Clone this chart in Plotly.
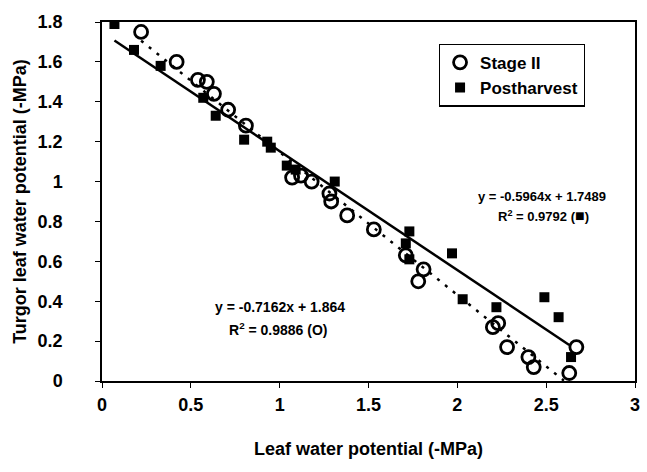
import plotly.graph_objects as go

# Stage II (open circles)
stage_x = [0.22, 0.42, 0.54, 0.59, 0.63, 0.71, 0.81, 1.07, 1.12, 1.18, 1.28, 1.29,
           1.38, 1.53, 1.71, 1.81, 1.78, 2.20, 2.23, 2.28, 2.40, 2.43, 2.63, 2.67]
stage_y = [1.75, 1.60, 1.51, 1.50, 1.44, 1.36, 1.28, 1.02, 1.03, 1.00, 0.94, 0.90,
           0.83, 0.76, 0.63, 0.56, 0.50, 0.27, 0.29, 0.17, 0.12, 0.07, 0.04, 0.17]

# Postharvest (filled squares)
post_x = [0.07, 0.18, 0.33, 0.57, 0.64, 0.80, 0.93, 0.95, 1.04, 1.09, 1.31,
          1.73, 1.71, 1.73, 1.97, 2.03, 2.22, 2.49, 2.57, 2.64]
post_y = [1.79, 1.66, 1.58, 1.42, 1.33, 1.21, 1.20, 1.17, 1.08, 1.06, 1.00,
          0.75, 0.69, 0.61, 0.64, 0.41, 0.37, 0.42, 0.32, 0.12]

# Regression coefficients (from the chart)
stage_slope, stage_icpt = -0.7162, 1.864
post_slope, post_icpt = -0.5964, 1.7489
stage_line_x = [0.22, 2.60]
post_line_x = [0.07, 2.63]

x_ticks = [0, 0.5, 1, 1.5, 2, 2.5, 3]
y_ticks = [0, 0.2, 0.4, 0.6, 0.8, 1, 1.2, 1.4, 1.6, 1.8]

FONT = "Liberation Sans"

fig = go.Figure()

fig.add_trace(go.Scatter(
    x=post_line_x, y=[post_slope * v + post_icpt for v in post_line_x],
    mode="lines", line=dict(color="black", width=2.5), showlegend=False))
fig.add_trace(go.Scatter(
    x=stage_line_x, y=[stage_slope * v + stage_icpt for v in stage_line_x],
    mode="lines", line=dict(color="black", width=2.5, dash="3px,7px"), showlegend=False))

fig.add_trace(go.Scatter(
    x=stage_x, y=stage_y, mode="markers", name="Stage II",
    marker=dict(symbol="circle-open", size=13, color="black", line=dict(width=2.8))))
fig.add_trace(go.Scatter(
    x=post_x, y=post_y, mode="markers", name="Postharvest",
    marker=dict(symbol="square", size=10, color="black")))

ann_font_r = dict(family=FONT, size=13, color="black", weight="bold")
ann_font_l = dict(family=FONT, size=14, color="black", weight="bold")
fig.add_annotation(x=2.476, y=0.923, showarrow=False,
                   text="y = -0.5964x + 1.7489", font=ann_font_r)
fig.add_annotation(x=2.487, y=0.832, showarrow=False,
                   text="R<sup>2</sup> = 0.9792 (<span style='font-size:16px'>■</span>)",
                   font=ann_font_r)
fig.add_annotation(x=1.002, y=0.373, showarrow=False,
                   text="y = -0.7162x + 1.864", font=ann_font_l)
fig.add_annotation(x=0.99, y=0.262, showarrow=False,
                   text="R<sup>2</sup> = 0.9886 (O)", font=ann_font_l)

axis_common = dict(showline=True, linecolor="black", linewidth=1.5, mirror=True,
                   ticks="outside", ticklen=5, tickcolor="black", showgrid=False,
                   zeroline=False,
                   tickfont=dict(family=FONT, size=18, color="black", weight="bold"))

fig.update_xaxes(range=[0, 3], tickvals=x_ticks, ticktext=[str(v) for v in x_ticks],
                 ticklabelstandoff=2,
                 title=dict(text="Leaf water potential (-MPa)", standoff=28,
                            font=dict(family=FONT, size=18, color="black", weight="bold")),
                 **axis_common)
fig.update_yaxes(range=[0, 1.8], tickvals=y_ticks, ticktext=[f"{v:g}" for v in y_ticks],
                 ticklabelstandoff=29,
                 title=dict(text="Turgor leaf water potential (-MPa)", standoff=6,
                            font=dict(family=FONT, size=18, color="black", weight="bold")),
                 **axis_common)

fig.update_layout(
    width=647, height=472,
    margin=dict(l=102, r=7, t=22, b=91),
    plot_bgcolor="white", paper_bgcolor="white",
    legend=dict(x=0.632, y=0.94, xanchor="left", yanchor="top",
                bordercolor="black", borderwidth=1.2, bgcolor="white",
                font=dict(family=FONT, size=17, color="black", weight="bold"),
                itemwidth=30, tracegroupgap=4),
    font=dict(family=FONT),
)

fig.write_html("out.html")
